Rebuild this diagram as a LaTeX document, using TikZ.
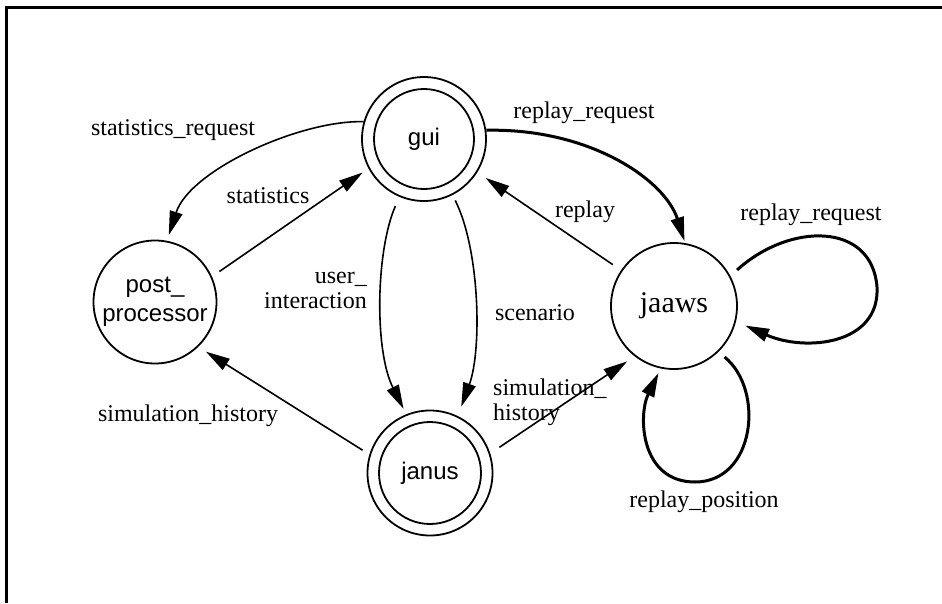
\documentclass[tikz,border=0pt]{standalone}
\usepackage{fontspec}
\setmainfont{Liberation Serif}
\newfontfamily\nodefont{Liberation Sans}
\usetikzlibrary{arrows.meta}
\begin{document}
\begin{tikzpicture}[x=1pt,y=-1pt,
  st/.style={circle,draw,line width=1.8pt,inner sep=0pt},
  stfont/.style={font=\nodefont\fontsize{24}{29}\selectfont},
  lbl/.style={font=\fontsize{24}{25}\selectfont,inner sep=0pt},
  conn/.style={line width=1.6pt,-{Triangle[length=24pt,width=13pt]}},
  heavy/.style={conn,line width=3pt}]
\useasboundingbox (0,0) rectangle (942,603);
\draw[line width=3pt] (6,603) -- (6,7) -- (942,7);
% states
\node[st,stfont,minimum size=124pt] (gui) at (424,139) {gui};
\node[st,minimum size=100pt] (guiin) at (gui.center) {};
\node[st,stfont,minimum size=125pt] (janus) at (430,473) {janus};
\node[st,minimum size=102pt] (janusin) at (janus.center) {};
\node[st,stfont,minimum size=123pt,align=center] (pp) at (155,302) {post\_\\processor};
\node[st,minimum size=126pt,font=\fontsize{30}{31}\selectfont] (jaaws) at (674,306) {jaaws};
% connectors
\draw[conn,shorten >=6pt] (gui.164) .. controls (300,120) and (190,170) .. (pp.79);
\draw[conn,shorten <=9pt,shorten >=7pt] (pp.24) -- (gui.208);
\draw[conn,shorten <=10pt,shorten >=6pt] (gui.247) .. controls (376,250) and (374,350) .. (janus.112);
\draw[conn,shorten <=6pt,shorten >=10pt] (gui.297) .. controls (480,250) and (482,350) .. (janus.64);
\draw[heavy,shorten >=2pt] (gui.8) .. controls (590,128) and (665,180) .. (jaaws.80);
\draw[conn,shorten <=10pt,shorten >=10pt] (jaaws.146) -- (gui.328);
\draw[conn,shorten <=8pt,shorten >=9pt] (janus.163) -- (pp.314);
\draw[conn,shorten <=11pt,shorten >=9pt] (janus.18) -- (jaaws.232);
\draw[heavy,shorten <=9pt,shorten >=10pt] (jaaws.28) .. controls (790,222) and (872,222) .. (877,287) .. controls (880,345) and (805,352) .. (jaaws.346);
\draw[heavy,shorten <=8pt,shorten >=5pt] (jaaws.314) .. controls (765,390) and (755,482) .. (695,482) .. controls (640,482) and (638,415) .. (jaaws.258);
% labels
\node[lbl] (l1) at (173,130) {statistics\_request};
\node[lbl] (l2) at (268,196) {statistics};
\node[lbl,align=right,anchor=east] (l3) at (367,290) {user\_\\interaction};
\node[lbl] (l4) at (535,313) {scenario};
\node[lbl] (l5) at (584,113) {replay\_request};
\node[lbl] (l6) at (585,212) {replay};
\node[lbl] (l7) at (188,416) {simulation\_history};
\node[lbl,align=left,anchor=west] (l8) at (493,402) {simulation\_\\history};
\node[lbl] (l9) at (811,215) {replay\_request};
\node[lbl] (l10) at (704,502) {replay\_position};
\end{tikzpicture}
\end{document}
